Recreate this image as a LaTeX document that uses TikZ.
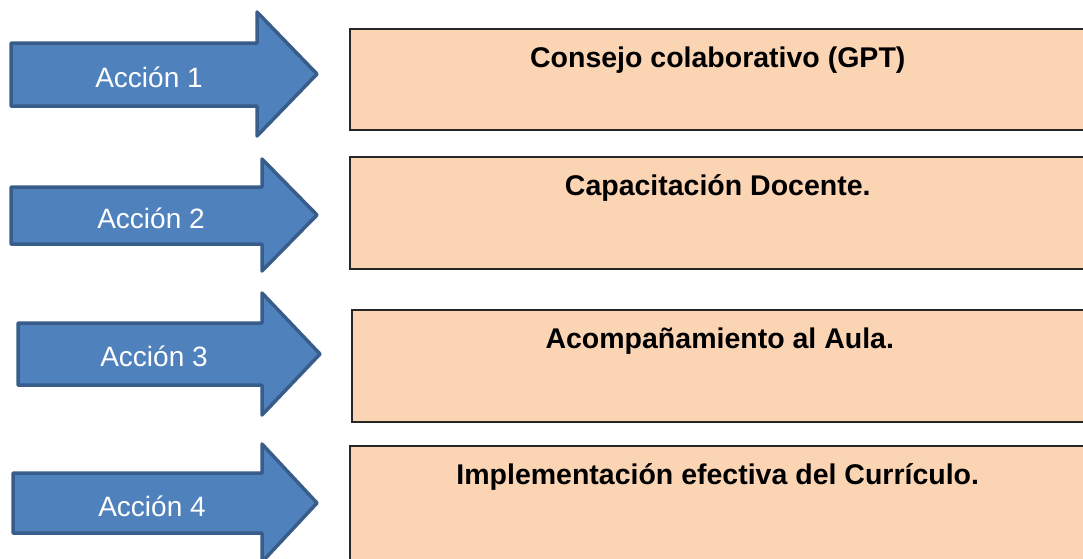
\documentclass[tikz,border=0pt]{standalone}
\usepackage{fontspec}
\setmainfont{Liberation Sans}
\definecolor{arrowfill}{HTML}{4F81BD}
\definecolor{arrowline}{HTML}{385D8A}
\definecolor{boxfill}{HTML}{FBD4B4}
\definecolor{boxline}{HTML}{262626}
\begin{document}
\begin{tikzpicture}[x=1pt, y=-1pt,
  actarrow/.style = {fill=arrowfill, draw=arrowline, line width=3.5pt, line join=round},
  arrowtext/.style = {text=white, font=\fontsize{28}{34}\selectfont, anchor=base, inner sep=0pt},
  actbox/.style = {rectangle, draw=boxline, fill=boxfill, line width=1.5pt, minimum width=736pt, anchor=north west, inner sep=0pt},
  boxtext/.style = {font=\bfseries\fontsize{28.5}{34}\selectfont, anchor=base, inner sep=0pt}]
  \useasboundingbox (0,0) rectangle (1083,558);
  \clip (0,0) rectangle (1083,558);

  % arrows
  \draw[actarrow] (11,43) -- (257,43) -- (257,12) -- (317,74) -- (257,136) -- (257,106) -- (11,106) -- cycle;
  \draw[actarrow] (11,187) -- (262,187) -- (262,159) -- (317,215) -- (262,271) -- (262,244) -- (11,244) -- cycle;
  \draw[actarrow] (18,323) -- (262,323) -- (262,293) -- (320,354) -- (262,415) -- (262,385) -- (18,385) -- cycle;
  \draw[actarrow] (13,473) -- (262,473) -- (262,444) -- (317,503) -- (262,562) -- (262,533) -- (13,533) -- cycle;
  \node[arrowtext] (acc1) at (149,87) {Acción 1};
  \node[arrowtext] (acc2) at (151,228) {Acción 2};
  \node[arrowtext] (acc3) at (154,366) {Acción 3};
  \node[arrowtext] (acc4) at (152,516) {Acción 4};

  % boxes
  \node[actbox, minimum height=101pt] (box1) at (349,28) {};
  \node[actbox, minimum height=112pt] (box2) at (349,156) {};
  \node[actbox, minimum height=112pt] (box3) at (351,309) {};
  \node[actbox, minimum height=150pt] (box4) at (349,445) {};
  \node[boxtext] (txt1) at ([yshift=-39pt]box1.north) {Consejo colaborativo (GPT)};
  \node[boxtext] (txt2) at ([yshift=-39pt]box2.north) {Capacitación Docente.};
  \node[boxtext] (txt3) at ([yshift=-39pt]box3.north) {Acompañamiento al Aula.};
  \node[boxtext] (txt4) at ([yshift=-39pt]box4.north) {Implementación efectiva del Currículo.};
\end{tikzpicture}
\end{document}
